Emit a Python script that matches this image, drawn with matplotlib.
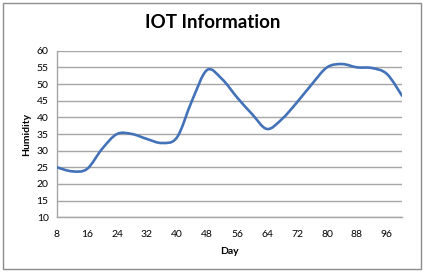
import matplotlib
matplotlib.use("Agg")
import matplotlib.pyplot as plt
from matplotlib.path import Path
from matplotlib.patches import PathPatch, Rectangle
import numpy as np

days = [8, 12, 16, 20, 24, 28, 32, 36, 40, 44, 48, 52, 56, 60, 64, 68, 72, 76, 80, 84, 88, 92, 96, 100]
humidity = [25, 23.8, 24.5, 30.5, 35, 35, 33.5, 32.3, 34, 45, 54.2, 51.5, 46, 41, 36.5, 39.5, 44.5, 50, 55, 56, 55, 54.8, 53, 46.5]
xticks = [8, 16, 24, 32, 40, 48, 56, 64, 72, 80, 88, 96]
yticks = [10, 15, 20, 25, 30, 35, 40, 45, 50, 55, 60]
title = "IOT Information"
xlabel = "Day"
ylabel = "Humidity"

plt.rcParams['font.family'] = ['Lato', 'DejaVu Sans']

fig = plt.figure(figsize=(4.27, 2.72), dpi=100)
ax = fig.add_axes([57/427, 1-217.3/272, (402-57)/427, (217.3-50.7)/272])

# Smoothed line (Catmull-Rom via cubic Bezier segments, like Excel's smoothed line)
x = np.array(days, float)
y = np.array(humidity, float)
verts = [(x[0], y[0])]
codes = [Path.MOVETO]
n = len(x)
t = 1/6
for i in range(n-1):
    p0 = (x[i-1], y[i-1]) if i > 0 else (x[i], y[i])
    p1 = (x[i], y[i])
    p2 = (x[i+1], y[i+1])
    p3 = (x[i+2], y[i+2]) if i+2 < n else (x[i+1], y[i+1])
    c1 = (p1[0] + (p2[0]-p0[0])*t, p1[1] + (p2[1]-p0[1])*t)
    c2 = (p2[0] - (p3[0]-p1[0])*t, p2[1] - (p3[1]-p1[1])*t)
    verts += [c1, c2, p2]
    codes += [Path.CURVE4]*3
ax.add_patch(PathPatch(Path(verts, codes), fill=False, edgecolor='#4472B9', lw=1.9,
                       capstyle='round', joinstyle='round', zorder=3))

ax.set_xlim(8, 100)
ax.set_ylim(10, 60)
ax.set_xticks(xticks)
ax.set_yticks(yticks)
ax.tick_params(axis='both', length=0, labelsize=7.5, colors='black')
ax.tick_params(axis='x', pad=9)
ax.tick_params(axis='y', pad=6)
ax.grid(axis='y', color='#a6a6a6', lw=1.0)
ax.set_axisbelow(True)
for s in ['top', 'right']:
    ax.spines[s].set_visible(False)
for s in ['left', 'bottom']:
    ax.spines[s].set_color('#a6a6a6')
    ax.spines[s].set_linewidth(1.0)

ax.set_xlabel(xlabel, fontsize=7.5, fontweight='bold', labelpad=6)
ax.set_ylabel(ylabel, fontsize=7.5, fontweight='bold', labelpad=4)
fig.text(213/427, 1-22/272, title, ha='center', va='center', fontsize=13.5, fontweight='bold')

fig.patches.append(Rectangle((3/427, 3/272), (421.5-3)/427, (269-3.3)/272,
                             transform=fig.transFigure, fill=False, edgecolor='#8c8c8c', lw=1.0))

fig.savefig("out.png", dpi=100)
